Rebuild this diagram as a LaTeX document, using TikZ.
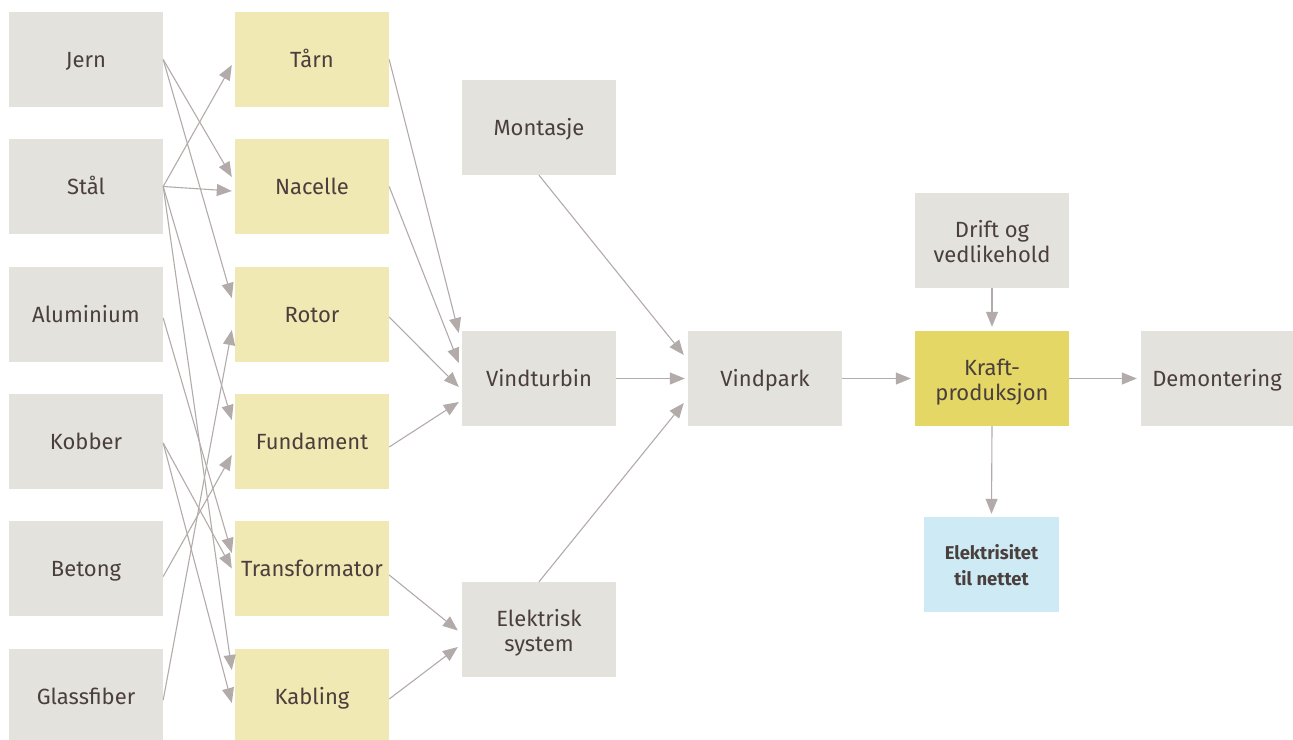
\documentclass[tikz,border=0pt]{standalone}
\usepackage{fontspec}
\setmainfont{Fira Sans}
\usetikzlibrary{arrows.meta}
\definecolor{boxgray}{HTML}{E4E2DD}
\definecolor{boxyel}{HTML}{F0E9B3}
\definecolor{boxkraft}{HTML}{E5D766}
\definecolor{boxblue}{HTML}{CEEBF5}
\definecolor{txt}{HTML}{4A3F3C}
\definecolor{arr}{HTML}{B3ABA9}
\newcommand\mytopstrut{\rule{0pt}{23.5pt}}
\newcommand\mybotstrut{\rule[-5pt]{0pt}{5pt}}
\newcommand\mytopstrutb{\rule{0pt}{20pt}}
\tikzset{
  base/.style={minimum width=154pt, minimum height=95pt, inner sep=0pt, align=center,
    text=txt, font=\fontsize{22}{25.5}\selectfont},
  one/.style={text height=16pt, text depth=0pt},
  gbox/.style={base, fill=boxgray},
  ybox/.style={base, fill=boxyel},
  kbox/.style={base, fill=boxkraft},
  bbox/.style={base, fill=boxblue, minimum width=135pt, font=\bfseries\fontsize{18.5}{26}\selectfont},
  conn/.style={draw=arr, line width=1.1pt, -{Triangle[length=15pt,width=12pt]}, color=arr},
}
\begin{document}
\begin{tikzpicture}[x=1pt,y=-1pt]
\useasboundingbox (0,0) rectangle (1293,739);
% column 1
\node[gbox,one] (jern) at (86,59.5) {Jern};
\node[gbox,one] (stal) at (86,186.5) {Stål};
\node[gbox,one] (alu) at (86,314.5) {Aluminium};
\node[gbox,one] (kob) at (86,441.5) {Kobber};
\node[gbox,one] (bet) at (86,568.5) {Betong};
\node[gbox,one] (gla) at (86,696.5) {Glassfiber};
% column 2
\node[ybox,one] (tarn) at (312,59.5) {Tårn};
\node[ybox,one] (nac) at (312,186.5) {Nacelle};
\node[ybox,one] (rot) at (312,314.5) {Rotor};
\node[ybox,one] (fun) at (312,441.5) {Fundament};
\node[ybox,one] (tra) at (312,568.5) {Transformator};
\node[ybox,one] (kab) at (312,696.5) {Kabling};
% column 3
\node[gbox,one] (mon) at (539,127.5) {Montasje};
\node[gbox,one] (vt) at (539,378.5) {Vindturbin};
\node[gbox] (el) at (539,629.5) {\mytopstrut Elektrisk\\system\mybotstrut};
% right part
\node[gbox,one] (vp) at (765,378.5) {Vindpark};
\node[kbox] (kraft) at (992,378.5) {\mytopstrut Kraft-\\produksjon\mybotstrut};
\node[gbox] (drift) at (992,240.5) {\mytopstrut Drift og\\vedlikehold\mybotstrut};
\node[gbox,one, minimum width=152pt] (dem) at (1217,378.5) {Demontering};
\node[bbox] (ett) at (991.5,564.5) {\mytopstrutb Elektrisitet\\til nettet\mybotstrut};
% column1 -> column2
\draw[conn] (jern.east) -- ([xshift=-3pt,yshift=9.5pt]nac.west);
\draw[conn] (jern.east) -- ([xshift=-3pt,yshift=16.5pt]rot.west);
\draw[conn] (stal.east) -- ([xshift=-3pt,yshift=-5.5pt]tarn.west);
\draw[conn] (stal.east) -- ([xshift=-3pt,yshift=-4.5pt]nac.west);
\draw[conn] (stal.east) -- ([xshift=-3pt,yshift=21.5pt]fun.west);
\draw[conn] (stal.east) -- ([xshift=-3pt,yshift=26.5pt]kab.west);
\draw[conn] ([yshift=-3.5pt]alu.east) -- ([xshift=-3pt,yshift=15.5pt]tra.west);
\draw[conn] ([yshift=-1.5pt]kob.east) -- ([xshift=-3pt,yshift=0pt]tra.west);
\draw[conn] ([yshift=-1.5pt]kob.east) -- ([xshift=-3pt,yshift=-6.5pt]kab.west);
\draw[conn] ([yshift=-8pt]bet.east) -- ([xshift=-3pt,yshift=-13.5pt]fun.west);
\draw[conn] ([yshift=-3.5pt]gla.east) -- ([xshift=-3pt,yshift=-15.5pt]rot.west);
% column2 -> column3
\draw[conn] (tarn.east) -- ([xshift=-3pt,yshift=45.5pt]vt.west);
\draw[conn] (nac.east) -- ([xshift=-3pt,yshift=15.5pt]vt.west);
\draw[conn] ([yshift=-2.5pt]rot.east) -- ([xshift=-3pt,yshift=-8.5pt]vt.west);
\draw[conn] ([yshift=-5.5pt]fun.east) -- ([xshift=-3pt,yshift=-23.5pt]vt.west);
\draw[conn] ([yshift=-6.5pt]tra.east) -- ([xshift=-4pt,yshift=-1pt]el.west);
\draw[conn] ([yshift=-2.5pt]kab.east) -- ([xshift=-4pt,yshift=-17.5pt]el.west);
% to Vindpark
\draw[conn] (mon.south) -- ([xshift=-4pt,yshift=23.5pt]vp.west);
\draw[conn] (vt.east) -- ([xshift=-3pt]vp.west);
\draw[conn] (el.north) -- ([xshift=-4pt,yshift=-24.5pt]vp.west);
% right chain
\draw[conn] (vp.east) -- ([xshift=-4pt]kraft.west);
\draw[conn] (kraft.east) -- ([xshift=-4pt]dem.west);
\draw[conn] (drift.south) -- ([yshift=4pt]kraft.north);
\draw[conn] (kraft.south) -- ([yshift=3pt]ett.north);
\end{tikzpicture}
\end{document}
